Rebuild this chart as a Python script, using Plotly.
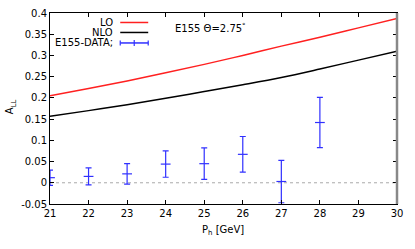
import plotly.graph_objects as go

# Theory curves
x_curve = [21, 22, 23, 24, 25, 26, 27, 28, 29, 30]
lo_vals = [0.205, 0.222, 0.240, 0.259, 0.279, 0.300, 0.322, 0.343, 0.365, 0.387]
nlo_vals = [0.157, 0.170, 0.184, 0.199, 0.215, 0.231, 0.248, 0.268, 0.289, 0.310]

# E155 data
x_data = [21, 22, 23, 24, 25, 26, 27, 28]
a_data = [0.012, 0.015, 0.021, 0.044, 0.045, 0.067, 0.003, 0.142]
a_err = [0.018, 0.020, 0.024, 0.031, 0.037, 0.042, 0.050, 0.059]

x_ticks = [21, 22, 23, 24, 25, 26, 27, 28, 29, 30]
y_ticks = [-0.05, 0, 0.05, 0.1, 0.15, 0.2, 0.25, 0.3, 0.35, 0.4]
y_labels = ["-0.05", "0", "0.05", "0.1", "0.15", "0.2", "0.25", "0.3", "0.35", "0.4"]

RED = "#ff2020"
BLUE = "#3030ff"
FONT = "DejaVu Sans"

fig = go.Figure()
fig.add_trace(go.Scatter(x=x_curve, y=lo_vals, mode="lines", line=dict(color=RED, width=1.5),
                         line_shape="spline", showlegend=False))
fig.add_trace(go.Scatter(x=x_curve, y=nlo_vals, mode="lines", line=dict(color="black", width=1.5),
                         line_shape="spline", showlegend=False))
fig.add_trace(go.Scatter(x=x_data, y=a_data, mode="markers",
                         marker=dict(symbol="line-ew", size=7, line=dict(color=BLUE, width=1.2)),
                         error_y=dict(type="data", array=a_err, color=BLUE, thickness=1.2, width=3),
                         showlegend=False, cliponaxis=True))

# zero line
fig.add_shape(type="line", xref="x", yref="y", x0=21, x1=30, y0=0, y1=0,
              line=dict(color="#aaaaaa", width=1, dash="dot"), layer="below")
# grey right border
fig.add_shape(type="line", xref="paper", yref="paper", x0=1, x1=1, y0=0, y1=1,
              line=dict(color="#888888", width=2.5))

# manual legend (gnuplot style: text then sample)
W, H = 415, 249
L, R, T, B = 49.7, 18, 13, 44.7
pw, ph = W - L - R, H - T - B
def px(xp):
    return (xp - L) / pw
def py(yp):
    return 1 - (yp - T) / ph

rows = [("LO", RED, 22.5), ("NLO", "black", 32.5), ("E155-DATA;", BLUE, 43)]
for name, col, yy in rows:
    fig.add_annotation(xref="paper", yref="paper", x=px(115), y=py(yy), text=name,
                       showarrow=False, xanchor="right", yanchor="middle",
                       font=dict(family=FONT, size=10, color="black"))
    fig.add_shape(type="line", xref="paper", yref="paper", x0=px(120), x1=px(148),
                  y0=py(yy), y1=py(yy), line=dict(color=col, width=1.5))
# caps & tick for data legend sample
for xx in (120, 148):
    fig.add_shape(type="line", xref="paper", yref="paper", x0=px(xx), x1=px(xx),
                  y0=py(40.5), y1=py(45.5), line=dict(color=BLUE, width=1.2))
fig.add_shape(type="line", xref="paper", yref="paper", x0=px(134), x1=px(134),
              y0=py(40), y1=py(46), line=dict(color=BLUE, width=1.2))

fig.add_annotation(xref="paper", yref="paper", x=px(173), y=py(28.5),
                   text="E155 Θ=2.75<sup>°</sup>", showarrow=False,
                   xanchor="left", yanchor="middle",
                   font=dict(family=FONT, size=10, color="black"))

# axis titles
fig.add_annotation(xref="paper", yref="paper", x=px(223), y=py(231),
                   text="P<sub>h</sub> [GeV]", showarrow=False,
                   xanchor="center", yanchor="middle",
                   font=dict(family=FONT, size=10, color="black"))
fig.add_annotation(xref="paper", yref="paper", x=px(11), y=py(107),
                   text="A<sub>LL</sub>", showarrow=False, textangle=-90,
                   xanchor="center", yanchor="middle",
                   font=dict(family=FONT, size=10, color="black"))

axis_common = dict(showgrid=False, zeroline=False, showline=True, linecolor="black",
                   linewidth=1, mirror="ticks", ticks="inside", ticklen=4,
                   tickcolor="black", automargin=False,
                   tickfont=dict(family=FONT, size=10, color="black"))

fig.update_layout(
    width=W, height=H,
    margin=dict(l=L, r=R, t=T, b=B, pad=0, autoexpand=False),
    paper_bgcolor="white", plot_bgcolor="white",
    font=dict(family=FONT, size=10, color="black"),
    showlegend=False,
    xaxis=dict(range=[21, 30], tickvals=x_ticks, ticktext=[str(v) for v in x_ticks],
               **axis_common),
    yaxis=dict(range=[-0.05, 0.4], tickvals=y_ticks, ticktext=y_labels,
               **axis_common),
)

fig.write_html("out.html", config={"displayModeBar": False},
               post_script="document.body.style.margin='0px';")
